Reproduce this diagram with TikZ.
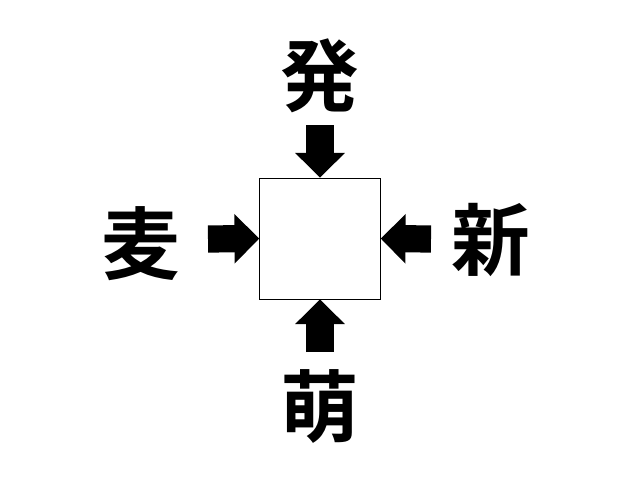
\documentclass[tikz,border=0pt]{standalone}
\usepackage{fontspec}
\newfontfamily\cjk{Noto Sans CJK JP Bold}
\usetikzlibrary{arrows.meta}
\tikzset{
  kanji/.style={font=\cjk\fontsize{56}{60}\selectfont, inner sep=0pt},
  blockarrow/.style={line width=0.68cm, -{Triangle[length=0.62cm, width=1.2cm]}},
}
\begin{document}
\begin{tikzpicture}[x=0.025cm, y=-0.025cm]
                \useasboundingbox (0,0) rectangle (640,480);
                \node[rectangle, minimum width=3.02cm, minimum height=3.02cm, draw=black, thin, inner sep=0pt] (box) at (320, 238.5) {};

                \node[kanji] (top)    at (320, 76)  {発};
                \node[kanji] (left)   at (141, 244) {麦};
                \node[kanji] (right)  at (491, 240) {新};
                \node[kanji] (bottom) at (320, 406) {萌};

                \coordinate (ftop)    at (320, 125);
                \coordinate (fleft)   at (208, 239);
                \coordinate (fright)  at (431, 239);
                \coordinate (fbottom) at (320, 352);

                \draw[blockarrow] (ftop) -- (box.north);
                \draw[blockarrow] (fleft) -- (box.west);
                \draw[blockarrow] (fright) -- (box.east);
                \draw[blockarrow] (fbottom) -- (box.south);
            \end{tikzpicture}
\end{document}
